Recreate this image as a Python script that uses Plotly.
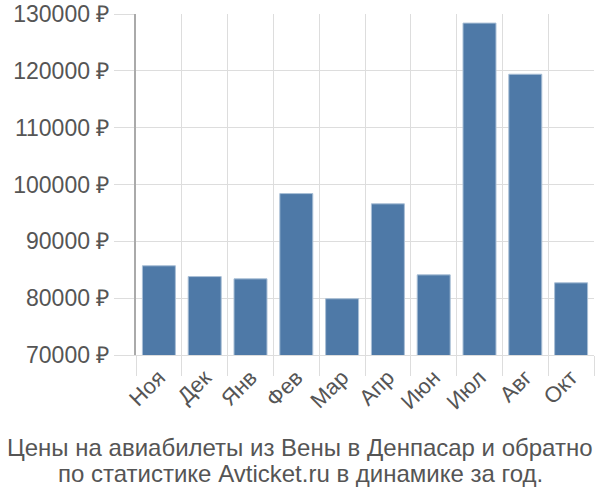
import plotly.graph_objects as go

months = ["Ноя", "Дек", "Янв", "Фев", "Мар", "Апр", "Июн", "Июл", "Авг", "Окт"]
prices = [85700, 83800, 83400, 98400, 79900, 96600, 84100, 128400, 119400, 82700]
y_ticks = [70000, 80000, 90000, 100000, 110000, 120000, 130000]
y_tick_labels = [f"{v} ₽" for v in y_ticks]
title_lines = ["Цены на авиабилеты из Вены в Денпасар и обратно",
               "по статистике Avticket.ru в динамике за год."]

FONT = "Liberation Sans"
GREY = "#555555"
L, R, T, B, W, H = 136, 6, 14, 145, 600, 500

fig = go.Figure(go.Bar(
    x=months, y=prices,
    marker=dict(color="#4e79a7", line=dict(color="#a9bfd6", width=1)),
))

fig.update_layout(
    width=W, height=H,
    margin=dict(l=L, r=R, t=T, b=B, autoexpand=False),
    plot_bgcolor="white", paper_bgcolor="white",
    bargap=0.28,
    showlegend=False,
    font=dict(family=FONT, color=GREY, size=22),
)
fig.update_xaxes(
    type="category", tickson="boundaries",
    showgrid=True, gridcolor="#dddddd", gridwidth=1,
    ticks="outside", ticklen=20, tickcolor="#dddddd",
    tickangle=-45, tickfont=dict(family=FONT, size=22, color=GREY),
    showline=True, linecolor="#dddddd", linewidth=1,
)
fig.update_yaxes(
    range=[70000, 130000], tickmode="array",
    tickvals=y_ticks, ticktext=y_tick_labels,
    showgrid=True, gridcolor="#dddddd", gridwidth=1,
    ticks="outside", ticklen=20, tickcolor="#dddddd",
    tickfont=dict(family=FONT, size=23, color=GREY),
    showline=True, linecolor="#aaaaaa", linewidth=2,
    zeroline=False,
)
pw, ph = W - L - R, H - T - B
for line, yc in zip(title_lines, [447, 473]):
    fig.add_annotation(
        text=line, xref="paper", yref="paper",
        x=(300 - L) / pw, y=-(yc - (H - B)) / ph,
        xanchor="center", yanchor="middle", showarrow=False,
        font=dict(family=FONT, size=24, color=GREY),
    )

fig.write_html("out.html")
